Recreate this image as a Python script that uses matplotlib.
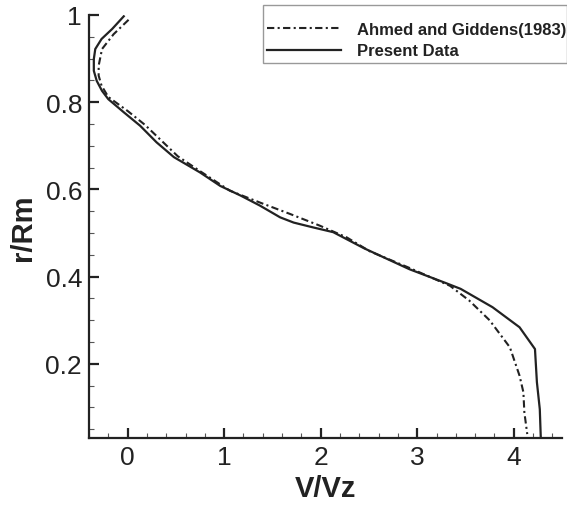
import matplotlib
matplotlib.use("Agg")
import matplotlib.pyplot as plt
from matplotlib.ticker import MultipleLocator, FixedLocator, FuncFormatter
from matplotlib.patches import Rectangle

plt.rcParams['font.family'] = ['Liberation Sans', 'DejaVu Sans']

# Present Data (solid)
present_x = [-0.04, -0.16, -0.27, -0.335, -0.35, -0.35, -0.32, -0.265, -0.2, -0.04,
             0.13, 0.30, 0.48, 0.75, 0.96, 1.17, 1.37, 1.58, 1.72, 1.92, 2.13, 2.45,
             2.92, 3.30, 3.45, 3.78, 4.06, 4.22, 4.24, 4.27, 4.28]
present_y = [0.997, 0.968, 0.945, 0.922, 0.899, 0.872, 0.849, 0.826, 0.807, 0.777,
             0.746, 0.708, 0.674, 0.639, 0.608, 0.586, 0.563, 0.536, 0.524, 0.513, 0.502, 0.465,
             0.417, 0.385, 0.372, 0.330, 0.284, 0.234, 0.158, 0.096, 0.032]

# Ahmed and Giddens (1983) (dash-dot)
ahmed_x = [0.01, -0.145, -0.265, -0.30, -0.30, -0.27, -0.2, 0.0, 0.18, 0.35, 0.52, 0.75,
           1.06, 1.37, 1.68, 1.99, 2.27, 2.51, 2.92, 3.34, 3.54, 3.75, 3.96, 4.06, 4.10,
           4.11, 4.14]
ahmed_y = [0.989, 0.956, 0.922, 0.884, 0.861, 0.838, 0.812, 0.780, 0.748, 0.712, 0.676, 0.642,
           0.597, 0.570, 0.544, 0.517, 0.490, 0.458, 0.420, 0.379, 0.345, 0.300, 0.238, 0.173, 0.135,
           0.089, 0.039]

x_ticks = [0, 1, 2, 3, 4]
y_ticks = [0.2, 0.4, 0.6, 0.8, 1.0]
labels = ["Ahmed and Giddens(1983)", "Present Data"]

W, H = 567, 506
ink = '#222222'
fig = plt.figure(figsize=(W/100, H/100), dpi=100)
ax = fig.add_axes([89/W, 1-439/H, (562-89)/W, (439-16)/H])

l1, = ax.plot(ahmed_x, ahmed_y, color=ink, lw=1.5, linestyle=(0, (3.5, 1.6, 1, 1.6)))
l2, = ax.plot(present_x, present_y, color=ink, lw=1.6, linestyle='-')

ax.set_xlim(-0.4, 4.5)
ax.set_ylim(0.03, 1.0)
ax.xaxis.set_major_locator(FixedLocator(x_ticks))
ax.yaxis.set_major_locator(FixedLocator(y_ticks))
ax.xaxis.set_minor_locator(MultipleLocator(0.2))
ax.yaxis.set_minor_locator(MultipleLocator(0.05))
ax.yaxis.set_major_formatter(FuncFormatter(lambda v, p: "%g" % v))
ax.xaxis.set_major_formatter(FuncFormatter(lambda v, p: "%g" % v))

for s in ['top', 'right']:
    ax.spines[s].set_visible(False)
for s in ['left', 'bottom']:
    ax.spines[s].set_linewidth(1.6)
    ax.spines[s].set_color(ink)

ax.tick_params(which='major', direction='in', length=7, width=1.6, color=ink,
               labelsize=19, labelcolor=ink, pad=5)
ax.tick_params(which='minor', direction='in', length=3.5, width=0.8, color='#555555')

ax.set_xlabel("V/Vz", fontsize=21, fontweight='bold', color=ink, labelpad=4)
ax.set_ylabel("r/Rm", fontsize=21, fontweight='bold', color=ink, labelpad=6)

# legend frame (drawn separately, reaching the right edge like the reference)
fig.patches.append(Rectangle((263/W, 1-64/H), (W-263)/W, (64-6)/H, transform=fig.transFigure,
                             facecolor='white', edgecolor='#999999', linewidth=1.0, zorder=2))
leg = fig.legend([l1, l2], labels, loc='upper left',
                 bbox_to_anchor=(267/W, 1-23/H), bbox_transform=fig.transFigure,
                 frameon=False, handlelength=4.45, handletextpad=0.95,
                 borderpad=0, borderaxespad=0, labelspacing=0.38,
                 prop={'weight': 'bold', 'size': 12})
leg.set_zorder(3)
for t in leg.get_texts():
    t.set_color(ink)

fig.savefig("out.png", dpi=100)
